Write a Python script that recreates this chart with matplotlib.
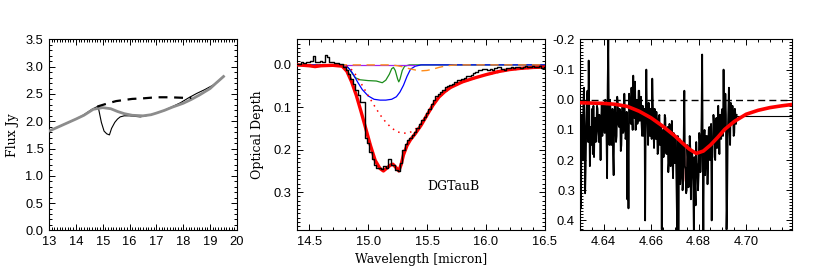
import numpy as np
import matplotlib
matplotlib.use("Agg")
import matplotlib.pyplot as plt
from matplotlib.ticker import MultipleLocator, FormatStrFormatter

plt.rcParams["axes.unicode_minus"] = False

# ---- left panel: flux spectrum (Jy) ----
flux_wave = [13.0, 13.5, 14.0, 14.3, 14.6, 14.8, 14.85, 14.95, 15.05, 15.15, 15.25,
             15.33, 15.45, 15.55, 15.65, 15.8, 16.0, 16.2, 16.4, 16.6, 16.8, 17.0,
             17.3, 17.6, 17.9, 18.2, 18.5, 18.8, 19.1, 19.3, 19.5]
flux_obs = [1.82, 1.93, 2.04, 2.12, 2.22, 2.27, 2.22, 1.98, 1.82, 1.77, 1.75,
            1.87, 1.98, 2.04, 2.08, 2.10, 2.10, 2.09, 2.08, 2.10, 2.12, 2.15,
            2.20, 2.27, 2.34, 2.43, 2.51, 2.58, 2.66, 2.73, 2.83]
cont_wave = [13.0, 13.5, 14.0, 14.3, 14.65, 15.0, 15.3, 15.55, 15.8, 16.1, 16.5,
             16.8, 17.0, 17.3, 17.6, 18.0, 18.3, 18.6, 19.0, 19.2, 19.5]
cont_flux = [1.82, 1.93, 2.04, 2.11, 2.22, 2.25, 2.23, 2.18, 2.14, 2.11, 2.10,
             2.12, 2.15, 2.20, 2.26, 2.33, 2.40, 2.48, 2.60, 2.69, 2.82]
cont_guess_wave = [14.8, 15.2, 15.5, 15.8, 16.1, 16.5, 17.0, 17.5, 18.0, 18.3]
cont_guess_flux = [2.27, 2.33, 2.37, 2.39, 2.41, 2.42, 2.44, 2.44, 2.43, 2.43]

# ---- middle panel: 15 micron optical depth ----
tau_wave = np.round(np.arange(14.40, 16.501, 0.02), 2)
tau_obs = [-0.003, -0.002, -0.006, -0.004, -0.008, -0.006, -0.010, -0.022, -0.008, -0.006,
           -0.010, -0.008, -0.024, -0.018, -0.006, -0.007, -0.004, -0.005, -0.003, -0.001,
           0.004, 0.012, 0.022, 0.033, 0.045, 0.058, 0.072, 0.088, 0.088, 0.173,
           0.185, 0.205, 0.222, 0.235, 0.242, 0.243, 0.245, 0.238, 0.242, 0.222,
           0.237, 0.236, 0.248, 0.250, 0.232, 0.200, 0.186, 0.178, 0.172, 0.165,
           0.158, 0.148, 0.140, 0.131, 0.122, 0.113, 0.103, 0.092, 0.082, 0.073,
           0.068, 0.064, 0.059, 0.053, 0.050, 0.047, 0.044, 0.040, 0.036, 0.035,
           0.033, 0.030, 0.027, 0.026, 0.024, 0.020, 0.016, 0.013, 0.012, 0.010,
           0.010, 0.013, 0.010, 0.012, 0.008, 0.006, 0.006, 0.009, 0.011, 0.008,
           0.007, 0.005, 0.008, 0.006, 0.004, 0.007, 0.005, 0.003, 0.006, 0.004,
           0.003, 0.006, 0.005, 0.003, 0.008, 0.005]

fit_wave = [14.40, 14.50, 14.55, 14.60, 14.70, 14.78, 14.82, 14.86, 14.90, 14.94, 14.98,
            15.02, 15.06, 15.10, 15.13, 15.16, 15.19, 15.21, 15.24, 15.26, 15.28, 15.30,
            15.33, 15.36, 15.40, 15.45, 15.50, 15.55, 15.60, 15.65, 15.70, 15.80, 15.90,
            16.00, 16.10, 16.20, 16.30, 16.40, 16.50]
fit_tau = [0.000, 0.002, 0.004, 0.002, 0.001, 0.003, 0.015, 0.040, 0.072, 0.110, 0.150,
           0.190, 0.225, 0.244, 0.250, 0.243, 0.236, 0.234, 0.243, 0.250, 0.235, 0.212,
           0.190, 0.176, 0.162, 0.142, 0.118, 0.095, 0.076, 0.063, 0.053, 0.040, 0.031,
           0.023, 0.016, 0.011, 0.008, 0.006, 0.005]

broad_wave = [14.40, 14.80, 14.85, 14.90, 14.95, 15.00, 15.05, 15.10, 15.15, 15.20, 15.25,
              15.30, 15.35, 15.40, 15.45, 15.50, 15.55, 15.60, 15.70, 15.80, 15.90, 16.00,
              16.20, 16.50]
broad_tau = [0.000, 0.000, 0.008, 0.025, 0.048, 0.072, 0.095, 0.117, 0.135, 0.149, 0.158,
             0.161, 0.160, 0.152, 0.138, 0.118, 0.097, 0.077, 0.054, 0.041, 0.032, 0.024,
             0.012, 0.005]

blue_wave = [14.40, 14.78, 14.82, 14.85, 14.88, 14.91, 14.95, 15.00, 15.05, 15.10, 15.15,
             15.20, 15.24, 15.27, 15.30, 15.33, 15.36, 15.40, 15.45, 16.50]
blue_tau = [0.0, 0.0, 0.004, 0.012, 0.025, 0.040, 0.058, 0.073, 0.081, 0.083, 0.083,
            0.081, 0.075, 0.064, 0.048, 0.027, 0.010, 0.003, 0.0, 0.0]

green_wave = [14.40, 14.80, 14.83, 14.86, 14.89, 14.93, 15.00, 15.07, 15.12, 15.15, 15.18,
              15.20, 15.215, 15.23, 15.25, 15.26, 15.27, 15.29, 15.31, 15.35, 16.50]
green_tau = [0.0, 0.0, 0.006, 0.018, 0.030, 0.035, 0.037, 0.038, 0.042, 0.036, 0.022,
             0.009, 0.006, 0.013, 0.033, 0.040, 0.034, 0.013, 0.003, 0.0, 0.0]

orange_wave = [14.40, 14.45, 14.50, 14.55, 14.60, 15.20, 15.25, 15.30, 15.35, 15.40, 15.45,
               15.50, 15.55, 15.60, 15.65, 15.70, 15.75, 16.50]
orange_tau = [0.0, 0.001, 0.004, 0.003, 0.0, 0.0, 0.002, 0.005, 0.009, 0.012, 0.014,
              0.013, 0.010, 0.006, 0.003, 0.001, 0.0, 0.0]

zero_wave = [14.40, 15.40]
zero_tau = [0.0, 0.0]

# ---- right panel: 4.68 micron optical depth ----
co_wave = np.round(np.arange(4.6300, 4.69601, 0.00025), 5)
co_tau = [0.15, 0.30, 0.36, 0.05, 0.12, 0.20, 0.02, -0.04, 0.10, 0.31,
          0.22, 0.08, 0.00, -0.03, 0.14, -0.13, 0.05, 0.22, 0.09, 0.15,
          0.12, 0.03, 0.18, 0.02, 0.19, 0.08, 0.06, 0.14, 0.10, 0.02,
          0.03, 0.11, 0.14, 0.05, 0.09, 0.20, 0.07, 0.01, 0.12, 0.04,
          0.02, 0.08, 0.11, 0.00, 0.04, 0.12, 0.26, -0.05, -0.20, 0.09,
          0.15, 0.00, 0.05, 0.15, 0.09, 0.03, 0.18, 0.25, 0.06, 0.02,
          0.06, 0.14, 0.12, -0.01, 0.01, 0.08, 0.09, 0.03, 0.04, 0.17,
          0.15, 0.05, 0.02, 0.11, 0.10, -0.02, 0.05, 0.13, 0.12, 0.04,
          0.33, 0.08, 0.36, -0.02, 0.02, 0.06, 0.08, -0.04, 0.05, 0.10,
          -0.08, 0.03, 0.06, -0.06, 0.10, 0.02, 0.00, 0.08, 0.07, -0.03,
          -0.03, 0.07, 0.06, -0.01, 0.08, 0.12, 0.02, 0.05, 0.12, 0.03,
          0.40, 0.06, -0.10, 0.04, 0.08, 0.15, 0.01, 0.09, 0.12, 0.03,
          0.06, 0.13, -0.07, 0.02, 0.10, 0.16, 0.03, 0.07, 0.13, 0.04,
          0.08, 0.18, 0.17, 0.06, 0.05, 0.15, 0.14, 0.09, 0.43, 0.11,
          0.10, 0.19, 0.14, 0.05, 0.06, 0.17, 0.18, 0.10, 0.09, 0.24,
          0.21, 0.08, 0.12, 0.22, 0.15, 0.07, 0.20, 0.26, 0.11, 0.16,
          0.21, 0.13, 0.18, 0.30, 0.44, 0.12, 0.45, 0.20, 0.13, 0.28,
          0.25, 0.14, 0.15, 0.30, 0.26, 0.12, -0.03, 0.22, 0.23, 0.31,
          0.30, 0.15, 0.19, 0.29, 0.27, 0.12, 0.16, 0.33, 0.24, 0.17,
          0.20, 0.27, 0.45, 0.19, 0.28, 0.35, 0.14, 0.21, 0.22, 0.30,
          0.25, 0.11, 0.13, 0.24, 0.18, 0.06, -0.15, 0.20, 0.45, 0.14,
          0.10, 0.25, 0.21, 0.12, 0.12, 0.28, 0.19, 0.10, 0.09, 0.20,
          0.17, 0.08, 0.40, 0.15, 0.14, 0.05, 0.08, 0.19, 0.20, 0.07,
          0.06, 0.16, 0.12, 0.02, 0.10, 0.18, 0.05, 0.12, 0.13, 0.04,
          0.03, 0.12, -0.10, 0.08, 0.10, -0.02, 0.05, 0.43, 0.33, 0.12,
          0.04, -0.04, 0.09, 0.15, 0.01, 0.07, 0.08, 0.02, 0.05, 0.12,
          0.11, 0.03, 0.05, 0.08, 0.05]
co_fit_wave = [4.630, 4.635, 4.640, 4.645, 4.650, 4.655, 4.660, 4.665, 4.670, 4.673,
               4.676, 4.679, 4.682, 4.685, 4.688, 4.691, 4.695, 4.700, 4.705, 4.710,
               4.715, 4.720]
co_fit_tau = [0.010, 0.011, 0.012, 0.015, 0.022, 0.038, 0.060, 0.088, 0.120, 0.142,
              0.163, 0.178, 0.170, 0.150, 0.125, 0.098, 0.072, 0.048, 0.035, 0.026,
              0.020, 0.015]
pink_wave = [4.6695, 4.6705, 4.6715, 4.6725, 4.6735, 4.6745, 4.6755, 4.6762]
pink_top = [0.117, 0.124, 0.130, 0.136, 0.143, 0.150, 0.156, 0.160]
pink_bottom = [0.135, 0.180, 0.225, 0.262, 0.275, 0.255, 0.210, 0.165]
base_wave = [4.6955, 4.720]
base_tau = [0.053, 0.053]

TICK_FONT = "Liberation Sans"
LABEL_FONT = "DejaVu Serif"


def style_axis(ax, xmajor, xminor, ymajor, yminor):
    ax.xaxis.set_major_locator(MultipleLocator(xmajor))
    ax.xaxis.set_minor_locator(MultipleLocator(xminor))
    ax.yaxis.set_major_locator(MultipleLocator(ymajor))
    ax.yaxis.set_minor_locator(MultipleLocator(yminor))
    ax.tick_params(which="both", direction="in", top=True, right=True,
                   labelsize=9.3, width=0.7, pad=4)
    ax.tick_params(which="major", length=4)
    ax.tick_params(which="minor", length=2)
    for lab in ax.get_xticklabels() + ax.get_yticklabels():
        lab.set_family(TICK_FONT)
    for sp in ax.spines.values():
        sp.set_linewidth(0.8)


fig = plt.figure(figsize=(8.17, 2.72), dpi=100)
ax1 = fig.add_axes([0.060, 0.153, 0.230, 0.702])
ax2 = fig.add_axes([0.364, 0.153, 0.303, 0.702])
ax3 = fig.add_axes([0.7105, 0.153, 0.2595, 0.702])

# left
ax1.plot(flux_wave, flux_obs, color="black", lw=0.8, zorder=2)
ax1.plot(cont_wave, cont_flux, color="#8c8c8c", lw=2.0, zorder=3)
ax1.plot(cont_guess_wave, cont_guess_flux, color="black", lw=1.6, ls=(0, (4, 3)), zorder=4)
ax1.set_xlim(13, 20)
ax1.set_ylim(0.0, 3.5)
style_axis(ax1, 1, 0.1, 0.5, 0.1)
ax1.yaxis.set_major_formatter(FormatStrFormatter("%.1f"))
ax1.set_ylabel("Flux Jy", family=LABEL_FONT, fontsize=9, labelpad=5)

# middle
ax2.plot(green_wave, green_tau, color="#1a8c1a", lw=0.9, zorder=2)
ax2.plot(blue_wave, blue_tau, color="#0000ff", lw=0.9, zorder=2)
ax2.plot(zero_wave, zero_tau, color="#a020f0", lw=0.9, zorder=2.5)
ax2.plot(orange_wave, orange_tau, color="#ff8c1a", lw=1.0, ls=(0, (6, 4)), zorder=3)
ax2.plot(broad_wave, broad_tau, color="#ff0000", lw=1.1, ls=(0, (1, 3)), zorder=3)
ax2.plot(fit_wave, fit_tau, color="#ff0000", lw=2.4, zorder=4)
ax2.plot(tau_wave, tau_obs, color="black", lw=1.0, drawstyle="steps-mid", zorder=5)
ax2.text(15.72, 0.287, "DGTauB", family=LABEL_FONT, fontsize=9,
         ha="center", va="center")
ax2.set_xlim(14.4, 16.5)
ax2.set_ylim(0.39, -0.06)
style_axis(ax2, 0.5, 0.1, 0.1, 0.01)
ax2.yaxis.set_major_formatter(FormatStrFormatter("%.1f"))
ax2.set_ylabel("Optical Depth", family=LABEL_FONT, fontsize=9, labelpad=7)
ax2.set_xlabel("Wavelength [micron]", family=LABEL_FONT, fontsize=9, labelpad=4)

# right
ax3.axhline(0.0, color="black", lw=1.0, ls=(0, (5, 3)), zorder=1)
ax3.plot(base_wave, base_tau, color="black", lw=0.8, zorder=1)
ax3.fill_between(pink_wave, pink_top, pink_bottom, color="#ff6060", alpha=0.5,
                 lw=0, zorder=2)
ax3.plot(co_wave, co_tau, color="black", lw=1.3, zorder=3)
ax3.plot(co_fit_wave, co_fit_tau, color="#ff0000", lw=2.6, zorder=4)
ax3.set_xlim(4.6303, 4.7195)
ax3.set_ylim(0.433, -0.2)
style_axis(ax3, 0.02, 0.005, 0.1, 0.01)
ax3.xaxis.set_major_formatter(FormatStrFormatter("%.2f"))
ax3.yaxis.set_major_formatter(FormatStrFormatter("%.1f"))

fig.savefig("out.png", dpi=100)
